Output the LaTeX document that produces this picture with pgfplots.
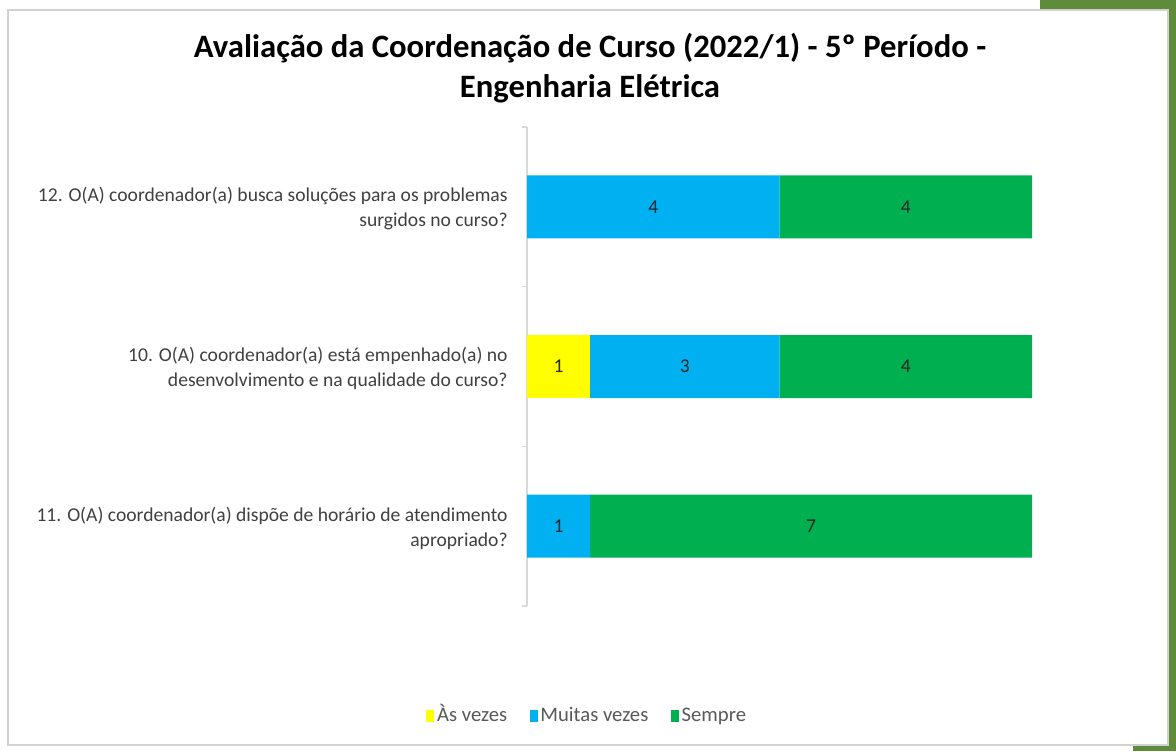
\documentclass[border=0pt]{standalone}
\usepackage{pgfplots}
\pgfplotsset{compat=1.18}
\usepackage{fontspec}
\setmainfont{Carlito}
\definecolor{cyel}{HTML}{FFFF00}
\definecolor{cblu}{HTML}{00B0F0}
\definecolor{cgrn}{HTML}{00B050}
\definecolor{ctxt}{HTML}{404040}
\definecolor{cleg}{HTML}{595959}
\definecolor{slidegreen}{HTML}{5E8C3A}
\begin{document}
\begin{tikzpicture}
% page bounds
\fill[white] (0pt,0pt) rectangle (882pt,563.25pt);
\fill[slidegreen] (876pt,0pt) rectangle (882pt,563.25pt);
\fill[slidegreen] (780pt,555.75pt) rectangle (882pt,563.25pt);
\fill[slidegreen] (850pt,0pt) rectangle (882pt,4.5pt);
\fill[white] (6pt,4.5pt) rectangle (876pt,555.75pt);
\draw[black!18, line width=1.2pt] (6pt,4.5pt) rectangle (876pt,555.75pt);
\node[align=center, font=\fontsize{24.5}{30}\selectfont\bfseries, text=black] at (442.5pt,512.25pt)
  {Avaliação da Coordenação de Curso (2022/1) - 5º Período -\\Engenharia Elétrica};
\begin{axis}[
  at={(395.25pt,108.75pt)}, anchor=south west,
  scale only axis, width=378.75pt, height=359.25pt,
  xbar stacked, bar width=47.25pt,
  xmin=0, xmax=8, ymin=-0.5, ymax=2.5,
  axis x line=none,
  axis y line*=left,
  y axis line style={black!15, line width=0.8pt},
  ytick={0,1,2},
  yticklabels={{11. O(A) coordenador(a) dispõe de horário de atendimento\\apropriado?},
               {10. O(A) coordenador(a) está empenhado(a) no\\desenvolvimento e na qualidade do curso?},
               {12. O(A) coordenador(a) busca soluções para os problemas\\surgidos no curso?}},
  major tick length=0pt,
  minor ytick={-0.5,0.5,1.5,2.5},
  minor tick length=4pt,
  tick align=outside,
  minor tick style={black!15, line width=0.8pt},
  yticklabel style={align=right, anchor=east, xshift=-11pt, yshift=-1.5pt, text=ctxt,
     font=\fontsize{14.7}{18.75}\selectfont},
  legend style={at={(0.12,-0.23)}, anchor=center, draw=none, fill=none,
     legend columns=3, font=\fontsize{15.5}{17}\selectfont, text=cleg,
     nodes={text height=10.5pt, text depth=3pt},
     /tikz/every even column/.append style={column sep=15pt},
     /tikz/every odd column/.append style={column sep=0pt}},
  legend image code/.code={\fill[#1] (0pt,-4.5pt) rectangle (6pt,4.5pt);},
  legend cell align=left,
]
\addplot[fill=cyel, draw=none] coordinates {(0,0) (1,1) (0,2)};
\addplot[fill=cblu, draw=none] coordinates {(1,0) (3,1) (4,2)};
\addplot[fill=cgrn, draw=none] coordinates {(7,0) (4,1) (4,2)};
\legend{Às vezes, Muitas vezes, Sempre}
\end{axis}
\begin{axis}[
  at={(395.25pt,108.75pt)}, anchor=south west,
  scale only axis, width=378.75pt, height=359.25pt,
  xmin=0, xmax=8, ymin=-0.5, ymax=2.5,
  hide axis,
]
\addplot[only marks, mark=none, nodes near coords, point meta=explicit symbolic,
  every node near coord/.append style={anchor=center, text=black!85, font=\fontsize{14.7}{16}\selectfont}]
  coordinates {(0.5,0) [1] (4.5,0) [7] (0.5,1) [1] (2.5,1) [3] (6,1) [4] (2,2) [4] (6,2) [4]};
\end{axis}
\end{tikzpicture}
\end{document}
